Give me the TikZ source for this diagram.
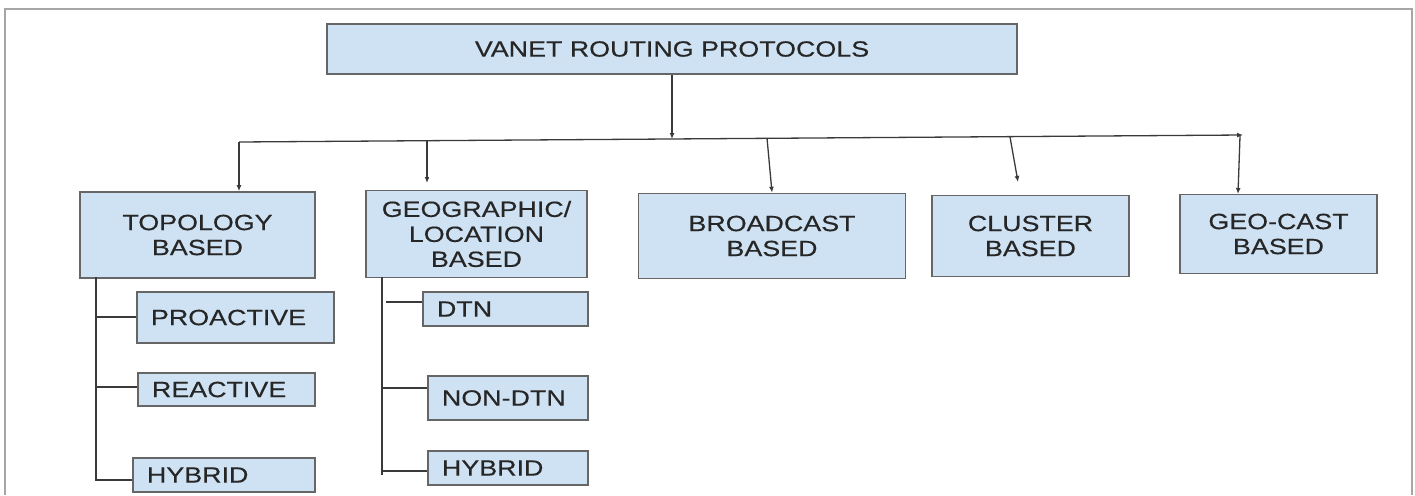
\documentclass[tikz,border=0pt]{standalone}
\usepackage{fontspec}
\setmainfont[FakeStretch=1.22,FakeBold=0.4]{Liberation Sans}
\usetikzlibrary{arrows.meta}
\definecolor{boxfill}{HTML}{CFE2F3}
\definecolor{boxline}{HTML}{666666}
\definecolor{txt}{HTML}{262626}
\definecolor{framec}{HTML}{A6A6A6}
\definecolor{connc}{HTML}{3A3A3A}
\begin{document}
\begin{tikzpicture}[x=1pt,y=-1pt,
  box/.style={draw=boxline, fill=boxfill, line width=1.6pt, inner sep=0pt, align=center, text=txt, font=\fontsize{22}{25}\selectfont},
  sub/.style={box, align=left, inner xsep=14pt},
  conn/.style={draw=connc, line width=1.3pt},
  arr/.style={conn, -{Latex[length=6pt,width=5pt]}}]
\useasboundingbox (0,0) rectangle (1415,495);
\draw[framec, line width=1.5pt] (5,495) -- (5,9) -- (1412,9) -- (1412,495);

% main boxes
\node[box, minimum width=690pt, minimum height=50pt] (root) at (672,49) {VANET ROUTING PROTOCOLS};
\node[box, minimum width=235pt, minimum height=86pt] (topo) at (197.5,235) {TOPOLOGY\\BASED};
\node[box, minimum width=221pt, minimum height=87pt] (geo) at (476.5,234) {GEOGRAPHIC/\\LOCATION\\BASED};
\node[box, minimum width=267pt, minimum height=85pt] (bc) at (772,236) {BROADCAST\\BASED};
\node[box, minimum width=197pt, minimum height=81pt] (cl) at (1030.5,236) {CLUSTER\\BASED};
\node[box, minimum width=197pt, minimum height=79pt] (gc) at (1278.5,234) {GEO-CAST\\BASED};

% sub boxes
\node[sub, text width=169pt, minimum width=197pt, minimum height=51pt] (pro) at (235.5,317.5) {PROACTIVE};
\node[sub, text width=149pt, minimum width=177pt, minimum height=33pt] (rea) at (226.5,389.5) {REACTIVE};
\node[sub, text width=154pt, minimum width=182pt, minimum height=34pt] (hya) at (224,475) {HYBRID};
\node[sub, text width=137pt, minimum width=165pt, minimum height=34pt] (dtn) at (505.5,309) {DTN};
\node[sub, text width=132pt, minimum width=160pt, minimum height=44pt] (ndt) at (508,398) {NON-DTN};
\node[sub, text width=132pt, minimum width=160pt, minimum height=34pt] (hyb) at (508,468) {HYBRID};

% bar and arrows
\coordinate (bL) at (239,142);
\coordinate (bR) at (1243,135);
\coordinate (bRoot) at (672,139);
\draw[arr] (root.south) -- (bRoot);
\draw[arr] (bL) -- (bR);
\draw[arr] (bL) -- (bL |- topo.north);
\coordinate (gA) at (427,141);
\coordinate (gB) at (427,183);
\draw[arr] (gA) -- (gB);
\coordinate (bcA) at (767,138);
\draw[arr] (bcA) -- (bc.north);
\coordinate (clA) at (1010,137);
\coordinate (clB) at (1018,182);
\draw[arr] (clA) -- (clB);
\coordinate (gcA) at (1240,136);
\coordinate (gcB) at (1238,194);
\draw[arr] (gcA) -- (gcB);

% topology tree
\coordinate (t0) at (96,277);
\coordinate (t1) at (96,317);
\coordinate (t2) at (96,387);
\coordinate (t3) at (96,480);
\draw[conn] (t0) -- (t3) -- (t3 -| hya.west);
\draw[conn] (t1) -- (t1 -| pro.west);
\draw[conn] (t2) -- (t2 -| rea.west);

% geographic tree
\coordinate (g0) at (382,277);
\coordinate (g1) at (386,302);
\coordinate (g2) at (382,388);
\coordinate (g3) at (382,471);
\coordinate (g4) at (382,475);
\draw[conn] (g0) -- (g4);
\draw[conn] (g1) -- (g1 -| dtn.west);
\draw[conn] (g2) -- (g2 -| ndt.west);
\draw[conn] (g3) -- (g3 -| hyb.west);
\end{tikzpicture}
\end{document}
